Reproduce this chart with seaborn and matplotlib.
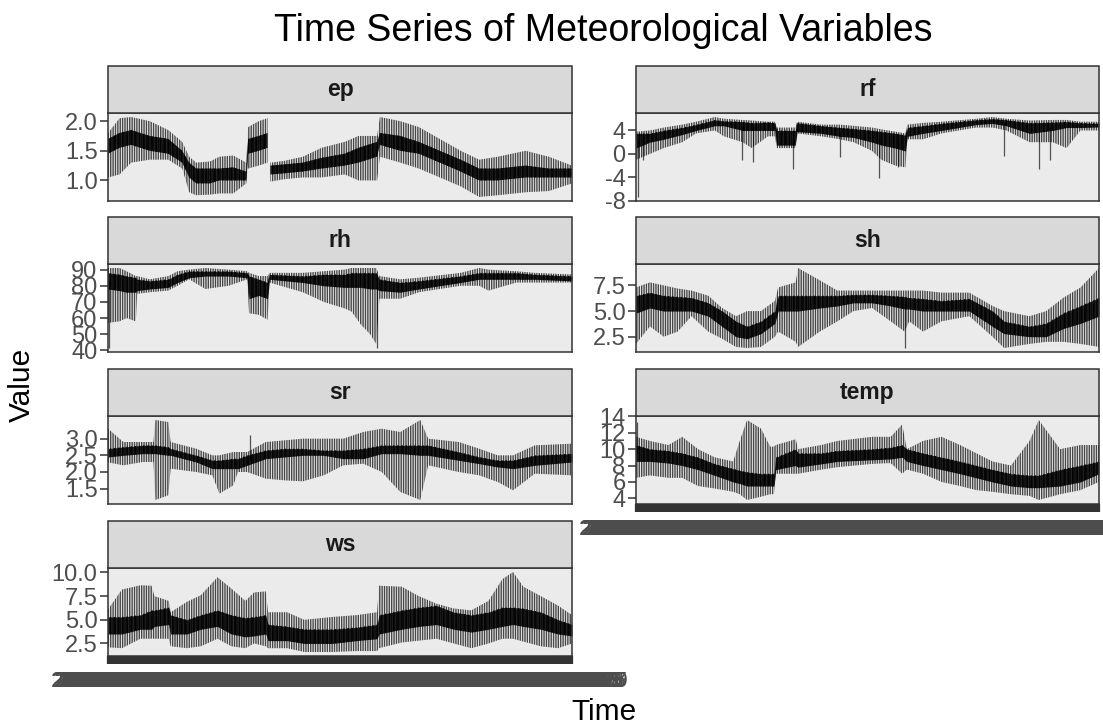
import numpy as np
import pandas as pd
import matplotlib
matplotlib.use("Agg")
import matplotlib.pyplot as plt
import seaborn as sns
from matplotlib.patches import Rectangle

# ---------------- data ----------------
variables = ["ep", "rf", "rh", "sh", "sr", "temp", "ws"]
nan = np.nan

# time position in % of the record; envelope low, core low, core high, envelope high
ep_t   = [0, 2.5, 5, 9, 13, 16, 17.5, 19, 22, 24, 27, 29.8, 30.2, 32.5, 34.4, 34.7, 35.0, 38, 42, 46, 51, 54, 58, 58.6, 63, 67, 71.5, 76, 80, 84, 90, 95, 100]
ep_lo  = [1.05, 1.10, 1.30, 1.35, 1.35, 1.20, 0.80, 0.75, 0.76, 0.78, 0.78, 0.95, 1.20, 1.25, 1.30, nan, 0.98, 1.02, 1.05, 1.05, 1.10, 1.00, 1.00, 1.40, 1.30, 1.20, 1.05, 0.90, 0.72, 0.75, 0.80, 0.82, 0.95]
ep_clo = [1.45, 1.55, 1.60, 1.50, 1.45, 1.30, 1.05, 0.95, 0.95, 1.00, 1.00, 1.00, 1.45, 1.50, 1.55, nan, 1.10, 1.12, 1.15, 1.20, 1.25, 1.30, 1.40, 1.60, 1.50, 1.45, 1.30, 1.15, 1.00, 1.00, 1.05, 1.05, 1.05]
ep_chi = [1.70, 1.80, 1.85, 1.75, 1.70, 1.50, 1.30, 1.20, 1.20, 1.20, 1.22, 1.15, 1.70, 1.75, 1.80, nan, 1.25, 1.27, 1.30, 1.38, 1.45, 1.55, 1.65, 1.80, 1.75, 1.65, 1.50, 1.35, 1.20, 1.20, 1.25, 1.20, 1.20]
ep_hi  = [1.80, 2.05, 2.07, 2.00, 1.85, 1.65, 1.40, 1.30, 1.32, 1.40, 1.42, 1.30, 1.90, 2.00, 2.05, nan, 1.30, 1.33, 1.40, 1.55, 1.65, 1.75, 1.75, 2.07, 2.00, 1.90, 1.70, 1.50, 1.35, 1.40, 1.50, 1.40, 1.25]
ep_spike_t, ep_spike_v = [], []

rf_t   = [0, 3, 6, 10, 13, 17, 19, 23, 25, 28.5, 30.0, 30.4, 34.4, 34.8, 40, 44, 47, 51, 53, 56, 58.2, 58.6, 62, 66, 73.5, 77, 80, 85, 90, 93, 96, 100]
rf_lo  = [-1.0, 0.0, 1.0, 2.0, 3.5, 4.0, 3.0, 2.0, 1.0, 3.0, 3.0, 1.0, 1.0, 3.5, 3.0, 2.5, 2.0, 0.5, -1.0, -2.0, -2.3, 2.5, 2.5, 3.5, 4.5, 4.5, 4.0, 2.0, 2.0, 1.0, 4.0, 4.0]
rf_clo = [1.0, 2.0, 2.5, 3.3, 4.0, 4.8, 4.8, 4.0, 4.0, 4.0, 4.0, 1.5, 1.5, 3.8, 3.5, 3.0, 2.8, 2.0, 1.5, 1.0, 0.5, 3.0, 3.5, 4.0, 5.0, 5.2, 4.8, 3.5, 4.0, 4.5, 4.5, 4.6]
rf_chi = [3.5, 3.5, 4.0, 4.5, 5.0, 5.8, 5.6, 5.5, 5.3, 5.4, 5.3, 4.0, 4.0, 5.3, 4.8, 4.5, 4.3, 4.0, 3.8, 3.5, 3.2, 4.5, 4.8, 5.2, 5.8, 6.0, 5.8, 5.3, 5.4, 5.5, 5.3, 5.2]
rf_hi  = [3.8, 4.0, 4.5, 5.0, 5.5, 6.3, 6.0, 5.8, 5.7, 5.5, 5.5, 4.5, 4.5, 5.5, 5.0, 5.0, 4.8, 4.5, 4.2, 3.8, 3.5, 5.0, 5.3, 5.5, 6.0, 6.3, 6.0, 5.7, 5.8, 5.8, 5.5, 5.5]
rf_spike_t = [0.5, 1.5, 23.0, 25.3, 34.0, 44.0, 52.5, 56.5, 79.5, 87.0, 89.5]
rf_spike_v = [-7.35, -1.0, -1.0, -1.3, -2.5, -0.5, -4.1, -2.3, -0.3, -2.5, -1.0]

rh_t   = [0, 2.5, 4, 6, 6.3, 9, 13, 15, 17.5, 21, 26, 30, 30.4, 32.5, 34.4, 34.8, 42, 46.5, 51, 52.5, 54.5, 56.5, 57.8, 58.5, 63, 67, 76, 80, 82, 88, 92, 100]
rh_lo  = [57, 58, 60, 58, 75, 76, 77, 80, 84, 78, 80, 84, 63, 62, 59, 82, 76, 70, 66, 64, 56, 50, 44, 72, 72, 76, 80, 80, 77, 82, 82, 82]
rh_clo = [78, 77, 76, 76, 77, 78, 79, 82, 85, 86, 86, 85, 72, 74, 72, 84, 82, 80, 79, 79, 79, 78, 78, 77, 76, 78, 82, 84, 84, 84, 84, 83]
rh_chi = [88, 87, 86, 85, 84, 83, 84, 87, 89, 89, 89, 88, 86, 84, 82, 87, 86, 87, 87, 88, 88, 88, 88, 84, 82, 83, 86, 88, 88, 88, 87, 86]
rh_hi  = [91, 91, 89, 86, 86, 84, 86, 89, 90, 91, 90, 89, 88, 86, 86, 88, 88, 89, 90, 91, 91, 91, 91, 86, 84, 85, 88, 91, 90, 89, 88, 87]
rh_spike_t = [0.3, 57.9]
rh_spike_v = [41.5, 41.8]

sh_t   = [0, 3, 6, 9, 12, 15.6, 18.6, 21.6, 24, 27, 30.0, 30.7, 34.5, 35.0, 39.7, 43.5, 47, 51, 55, 58, 59, 62, 66, 72, 77, 79.5, 85, 88.6, 92.3, 96, 100]
sh_lo  = [1.8, 3.5, 2.5, 3.0, 4.5, 3.0, 2.3, 1.5, 1.4, 1.5, 2.5, 3.0, 2.0, 1.5, 3.0, 4.0, 5.0, 5.3, 4.0, 3.0, 4.0, 3.0, 4.0, 4.5, 2.5, 1.4, 1.8, 2.0, 2.0, 1.8, 1.5]
sh_clo = [4.8, 5.3, 5.0, 5.0, 5.0, 4.5, 3.5, 2.5, 2.3, 2.8, 3.8, 5.0, 5.0, 5.0, 5.3, 5.5, 5.8, 5.8, 5.5, 5.2, 5.2, 5.0, 5.0, 5.0, 3.5, 2.8, 2.5, 2.5, 3.3, 3.8, 4.5]
sh_chi = [6.5, 6.8, 6.5, 6.4, 6.3, 5.8, 5.0, 4.0, 3.5, 4.0, 5.0, 6.5, 6.5, 6.5, 6.5, 6.5, 6.6, 6.6, 6.5, 6.4, 6.3, 6.2, 6.0, 6.2, 5.0, 4.0, 3.5, 3.8, 4.8, 5.5, 6.3]
sh_hi  = [7.3, 7.8, 7.5, 7.2, 7.0, 6.5, 5.3, 4.5, 5.0, 5.0, 6.0, 7.3, 7.8, 9.2, 8.0, 7.0, 7.0, 7.0, 7.0, 7.0, 7.0, 7.0, 6.8, 6.8, 5.5, 5.0, 4.5, 5.0, 6.3, 7.3, 9.2]
sh_spike_t = [58.0]
sh_spike_v = [1.4]

sr_t   = [0, 3.3, 7.5, 9.8, 10.2, 13, 13.5, 19, 22.5, 24, 27, 28, 30, 34, 38, 42, 46.5, 50.7, 55, 59, 63, 67.3, 69, 75.6, 80, 84, 87.3, 92, 100]
sr_lo  = [2.29, 2.20, 2.30, 2.30, 1.16, 1.30, 2.10, 2.00, 1.90, 1.35, 1.60, 2.00, 2.00, 1.80, 1.75, 1.72, 1.90, 2.20, 2.25, 2.00, 1.40, 1.16, 2.20, 2.00, 1.90, 1.70, 1.45, 1.95, 1.90]
sr_clo = [2.45, 2.50, 2.55, 2.55, 2.55, 2.50, 2.50, 2.30, 2.10, 2.10, 2.10, 2.10, 2.20, 2.40, 2.45, 2.50, 2.50, 2.40, 2.40, 2.55, 2.55, 2.50, 2.50, 2.35, 2.25, 2.15, 2.10, 2.20, 2.30]
sr_chi = [2.70, 2.75, 2.80, 2.80, 2.80, 2.75, 2.70, 2.50, 2.35, 2.35, 2.40, 2.40, 2.50, 2.65, 2.70, 2.70, 2.65, 2.65, 2.70, 2.80, 2.80, 2.80, 2.80, 2.60, 2.45, 2.35, 2.35, 2.50, 2.55]
sr_hi  = [3.30, 2.90, 2.90, 2.90, 3.56, 3.50, 2.90, 2.70, 2.50, 2.50, 2.60, 2.60, 2.60, 2.90, 2.95, 3.00, 3.00, 3.00, 3.20, 3.30, 3.20, 3.56, 3.00, 2.90, 2.70, 2.50, 2.50, 2.80, 2.85]
sr_spike_t = [30.5]
sr_spike_v = [3.1]

temp_t   = [0, 3, 7, 10, 13.4, 17, 21, 22.4, 24, 27, 29, 29.8, 30.2, 34.5, 35, 40, 43.5, 51, 55, 57.5, 58.5, 62, 66, 70, 73.5, 77, 81, 85, 87, 91.6, 96, 100]
temp_lo  = [6.5, 6.8, 6.5, 6.5, 5.5, 5.2, 4.8, 4.5, 3.8, 4.2, 4.5, 4.5, 7.0, 7.0, 7.0, 7.5, 7.8, 8.2, 8.3, 7.0, 7.5, 7.0, 6.0, 5.5, 5.0, 4.8, 4.5, 4.3, 3.8, 4.5, 5.0, 6.0]
temp_clo = [8.5, 8.5, 8.3, 8.0, 7.5, 6.8, 6.0, 5.8, 5.5, 5.5, 5.5, 5.5, 7.5, 8.0, 7.8, 8.2, 8.5, 8.7, 8.8, 9.0, 8.5, 8.0, 7.5, 7.0, 6.5, 6.0, 5.5, 5.3, 5.3, 5.5, 6.0, 7.0]
temp_chi = [10.5, 10.0, 9.8, 9.5, 9.0, 8.2, 7.6, 7.4, 7.2, 7.0, 7.0, 7.0, 9.0, 10.0, 9.5, 9.5, 9.8, 10.0, 10.2, 10.5, 10.0, 9.5, 9.0, 8.5, 8.0, 7.5, 7.0, 6.8, 6.8, 7.5, 8.0, 8.5]
temp_hi  = [11.5, 11.0, 10.5, 11.5, 10.0, 9.0, 8.5, 11.0, 13.55, 12.5, 10.3, 10.3, 10.5, 11.2, 10.0, 10.5, 11.0, 11.5, 11.5, 13.0, 10.0, 11.0, 11.5, 10.5, 9.5, 8.5, 8.0, 11.0, 13.55, 10.0, 10.5, 10.5]
temp_spike_t = [0.3]
temp_spike_v = [13.3]

ws_t   = [0, 3, 7, 9.4, 10, 13.1, 13.5, 17, 20, 23.6, 26.6, 29.6, 31.5, 34, 34.5, 38.6, 42.3, 48.3, 53.6, 58, 58.4, 63.3, 67, 70.8, 74.5, 78.3, 82, 85, 87.3, 89.5, 93.3, 97, 100]
ws_lo  = [2.1, 2.0, 3.0, 3.0, 3.0, 3.0, 2.2, 2.0, 2.2, 3.0, 2.2, 2.0, 2.5, 2.2, 2.0, 2.0, 1.6, 1.6, 1.7, 1.7, 2.0, 2.6, 2.8, 3.0, 2.5, 2.0, 2.5, 3.0, 3.0, 2.7, 2.2, 2.0, 2.5]
ws_clo = [3.5, 3.5, 4.0, 4.0, 4.3, 4.5, 3.5, 3.5, 4.0, 4.3, 3.5, 3.2, 3.3, 3.5, 2.8, 2.8, 2.5, 2.5, 2.8, 3.0, 3.5, 4.0, 4.3, 4.5, 4.0, 3.7, 4.0, 4.3, 4.5, 4.3, 4.0, 3.5, 3.3]
ws_chi = [5.3, 5.3, 5.5, 6.0, 6.0, 6.3, 5.5, 5.0, 5.5, 6.0, 5.5, 5.2, 5.3, 5.5, 4.5, 4.3, 4.0, 4.0, 4.2, 4.5, 5.5, 6.0, 6.3, 6.5, 5.8, 5.5, 5.8, 6.3, 6.3, 6.2, 5.8, 5.0, 4.5]
ws_hi  = [6.1, 8.2, 8.65, 8.6, 7.5, 7.0, 5.8, 6.9, 7.6, 9.5, 8.3, 7.0, 7.9, 8.0, 5.8, 5.8, 5.0, 5.3, 5.5, 5.8, 8.6, 8.5, 7.5, 6.7, 6.2, 6.0, 7.0, 9.3, 10.05, 8.5, 7.5, 6.5, 5.5]
ws_spike_t, ws_spike_v = [], []

y_ticks = {
    "ep": [1.0, 1.5, 2.0],
    "rf": [-8, -4, 0, 4],
    "rh": [40, 50, 60, 70, 80, 90],
    "sh": [2.5, 5.0, 7.5],
    "sr": [1.5, 2.0, 2.5, 3.0],
    "temp": [4, 6, 8, 10, 12, 14],
    "ws": [2.5, 5.0, 7.5, 10.0],
}
y_labels = {
    "ep": ["1.0", "1.5", "2.0"],
    "rf": ["-8", "-4", "0", "4"],
    "rh": ["40", "50", "60", "70", "80", "90"],
    "sh": ["2.5", "5.0", "7.5"],
    "sr": ["1.5", "2.0", "2.5", "3.0"],
    "temp": ["4", "6", "8", "10", "12", "14"],
    "ws": ["2.5", "5.0", "7.5", "10.0"],
}
time_labels = list(pd.date_range("2019-01-01", periods=365, freq="2D").strftime("%Y-%m-%d"))

series = {
    "ep": (ep_t, ep_lo, ep_clo, ep_chi, ep_hi, ep_spike_t, ep_spike_v),
    "rf": (rf_t, rf_lo, rf_clo, rf_chi, rf_hi, rf_spike_t, rf_spike_v),
    "rh": (rh_t, rh_lo, rh_clo, rh_chi, rh_hi, rh_spike_t, rh_spike_v),
    "sh": (sh_t, sh_lo, sh_clo, sh_chi, sh_hi, sh_spike_t, sh_spike_v),
    "sr": (sr_t, sr_lo, sr_clo, sr_chi, sr_hi, sr_spike_t, sr_spike_v),
    "temp": (temp_t, temp_lo, temp_clo, temp_chi, temp_hi, temp_spike_t, temp_spike_v),
    "ws": (ws_t, ws_lo, ws_clo, ws_chi, ws_hi, ws_spike_t, ws_spike_v),
}

# ---------------- styling ----------------
sns.set_theme(style="white")
plt.rcParams["font.family"] = ["Liberation Sans", "DejaVu Sans"]
plt.rcParams["axes.unicode_minus"] = False
plt.rcParams["hatch.linewidth"] = 1.0

frames = []
for v in variables:
    t, lo, clo, chi, hi, _, _ = series[v]
    frames.append(pd.DataFrame({"var": v, "t": t, "lo": lo, "clo": clo, "chi": chi, "hi": hi}))
df = pd.concat(frames, ignore_index=True)


def draw_band(data, **kw):
    ax = plt.gca()
    v = data["var"].iloc[0]
    t = data["t"].to_numpy(float)
    ax.fill_between(t, data["lo"], data["hi"], facecolor="none",
                    edgecolor=(0, 0, 0, 0.7), hatch="|||||||", linewidth=0)
    ax.fill_between(t, data["clo"], data["chi"], color="black", alpha=0.85, linewidth=0)
    ax.fill_between(t, data["clo"], data["chi"], facecolor="none",
                    edgecolor=(0, 0, 0, 0.9), hatch="||||", linewidth=0)
    st, sv = series[v][5], series[v][6]
    if len(st):
        mid = (data["clo"].to_numpy(float) + data["chi"].to_numpy(float)) / 2
        ok = ~np.isnan(mid)
        base = np.interp(st, t[ok], mid[ok])
        ax.vlines(st, base, sv, color="black", alpha=0.65, linewidth=0.9)


g = sns.FacetGrid(df, col="var", col_wrap=2, col_order=variables, sharex=False,
                  sharey=False, despine=False, height=2, aspect=2.5)
g.map_dataframe(draw_band)
g.set_titles("")
g.set_axis_labels("", "")

fig = g.figure
fig.set_size_inches(11.03, 7.27)
W, H = 1103.0, 727.0
col_left = [108, 636]
col_width = [464, 463]
row_top = [113, 264, 416, 568]
panel_h = 88
strip_h = 47

for i, v in enumerate(variables):
    ax = g.axes_dict[v]
    c, r = i % 2, i // 2
    ax.set_position([col_left[c] / W, 1 - (row_top[r] + panel_h) / H,
                     col_width[c] / W, panel_h / H])
    ax.set_facecolor("#EBEBEB")
    for s in ax.spines.values():
        s.set_visible(True)
        s.set_color("#333333")
        s.set_linewidth(1.1)
    ax.grid(False)
    ax.set_xlim(0, 100)
    t, lo, clo, chi, hi, st, sv = series[v]
    vals = np.array(list(lo) + list(hi) + list(sv), dtype=float)
    vmin, vmax = np.nanmin(vals), np.nanmax(vals)
    pad = 0.05 * (vmax - vmin)
    ax.set_ylim(vmin - pad, vmax + pad)
    ax.set_yticks(y_ticks[v], y_labels[v])
    ax.tick_params(axis="y", left=True, length=5.5, width=1.1, color="#333333",
                   labelsize=17, labelcolor="#4D4D4D", pad=2)
    if v in ("temp", "ws"):
        ax.set_xticks(np.linspace(0, 100, len(time_labels)), time_labels)
        ax.tick_params(axis="x", bottom=True, length=5.5, width=1.6, color="#333333",
                       labelsize=16, labelcolor="#4D4D4D", pad=5)
    else:
        ax.set_xticks([])
    ax.set_xlabel("")
    ax.set_ylabel("")
    sh_frac = strip_h / panel_h
    ax.add_patch(Rectangle((0, 1), 1, sh_frac, transform=ax.transAxes, clip_on=False,
                           facecolor="#D9D9D9", edgecolor="#333333", linewidth=1.1, zorder=5))
    ax.text(0.5, 1 + sh_frac / 2, v, transform=ax.transAxes, ha="center", va="center",
            fontsize=16.5, fontweight="bold", color="#1A1A1A", zorder=6)

fig.text(603.5 / W, 1 - 31 / H, "Time Series of Meteorological Variables",
         ha="center", va="center", fontsize=27, color="black")
fig.text(22 / W, 1 - 385 / H, "Value", rotation=90, ha="center", va="center",
         fontsize=21.5, color="black")
fig.text(603.5 / W, 1 - 712 / H, "Time", ha="center", va="center",
         fontsize=21.5, color="black")

fig.savefig("out.png", dpi=100, facecolor="white")
